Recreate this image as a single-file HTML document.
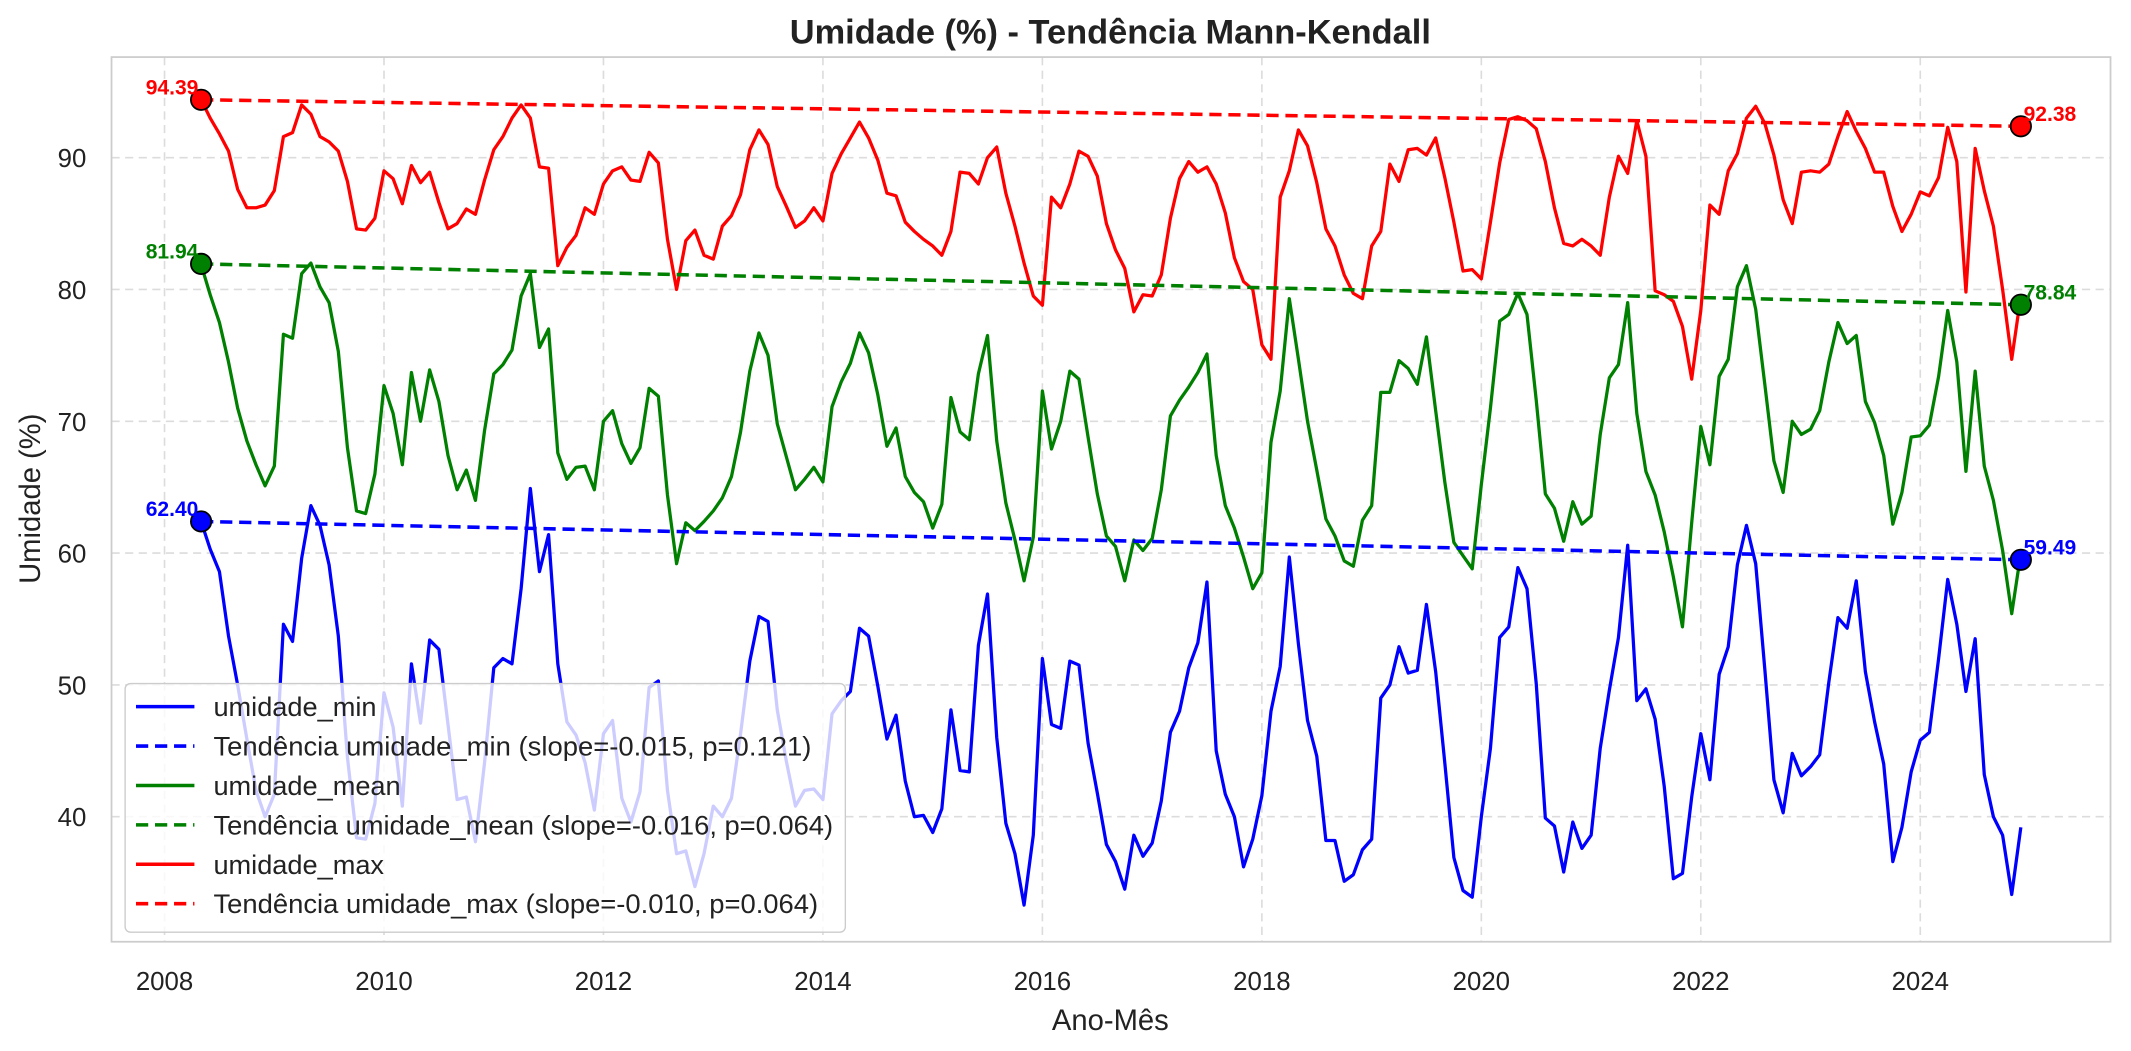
<!DOCTYPE html>
<html><head><meta charset="utf-8"><style>
html,body{margin:0;padding:0;background:#fff;}
svg{display:block;font-family:"Liberation Sans","DejaVu Sans",sans-serif;}
</style></head><body>
<svg id="chart" width="2131" height="1051" viewBox="0 0 1568 773.4" xmlns="http://www.w3.org/2000/svg">
<rect width="1568" height="773.4" fill="#fff"/>
<g id="grid"></g>
<g id="series"></g>
<rect x="82" y="42" width="1471" height="651" fill="none" stroke="#ccc" stroke-width="1.3"/>
<g id="ticks"></g>
<text x="817" y="32" text-anchor="middle" font-size="25.3" font-weight="bold" fill="#222">Umidade (%) - Tendência Mann-Kendall</text>
<text x="817" y="758" text-anchor="middle" font-size="21.5" fill="#222">Ano-Mês</text>
<text transform="translate(29.5,367) rotate(-90)" text-anchor="middle" font-size="21.5" fill="#222">Umidade (%)</text>
<g id="legend"></g>
</svg>
<script>
const startYear = 2008, startMonth = 5;
const yTicks = [40, 50, 60, 70, 80, 90];
const xTickYears = [2008, 2010, 2012, 2014, 2016, 2018, 2020, 2022, 2024];
const umidadeMax = [94.4,93.0,91.8,90.5,87.6,86.2,86.2,86.4,
87.5,91.6,91.9,94.0,93.3,91.6,91.2,90.5,88.2,84.6,84.5,85.4,
89.0,88.4,86.5,89.4,88.1,88.9,86.6,84.6,85.0,86.1,85.7,88.3,
90.6,91.6,93.0,94.0,93.0,89.3,89.2,81.8,83.2,84.1,86.2,85.7,
88.0,89.0,89.3,88.3,88.2,90.4,89.6,83.8,80.0,83.7,84.5,82.6,
82.3,84.8,85.6,87.2,90.6,92.1,91.0,87.8,86.3,84.7,85.2,86.2,
85.2,88.8,90.3,91.5,92.7,91.5,89.8,87.3,87.1,85.1,84.4,83.8,
83.3,82.6,84.4,88.9,88.8,88.0,90.0,90.8,87.3,84.8,82.0,79.5,
78.8,87.0,86.2,88.0,90.5,90.1,88.6,85.0,83.0,81.6,78.3,79.6,
79.5,81.1,85.4,88.4,89.7,88.9,89.3,88.0,85.8,82.4,80.6,80.0,
75.8,74.7,87.0,89.0,92.1,90.9,88.1,84.6,83.3,81.1,79.7,79.3,
83.3,84.4,89.5,88.2,90.6,90.7,90.2,91.5,88.5,85.1,81.4,81.5,
80.8,85.1,89.6,92.9,93.1,92.8,92.2,89.7,86.2,83.5,83.3,83.8,
83.3,82.6,87.0,90.1,88.8,92.8,90.1,79.9,79.6,79.1,77.2,73.2,
78.4,86.4,85.7,89.0,90.3,93.0,93.9,92.6,90.2,86.8,85.0,88.9,
89.0,88.9,89.5,91.6,93.5,92.0,90.7,88.9,88.9,86.3,84.4,85.7,
87.4,87.1,88.5,92.3,89.7,79.8,90.7,87.5,84.8,80.0,74.7,79.5];
const umidadeMean = [81.9,79.6,77.5,74.5,71.0,68.5,66.7,65.1,
66.6,76.6,76.3,81.2,82.0,80.2,79.0,75.3,68.0,63.2,63.0,66.0,
72.7,70.6,66.7,73.7,70.0,73.9,71.5,67.4,64.8,66.3,64.0,69.3,
73.6,74.3,75.4,79.5,81.2,75.6,77.0,67.6,65.6,66.5,66.6,64.8,
70.0,70.8,68.3,66.8,68.0,72.5,71.9,64.4,59.2,62.3,61.7,62.4,
63.2,64.2,65.8,69.2,73.8,76.7,75.0,69.8,67.3,64.8,65.6,66.5,
65.4,71.1,73.0,74.4,76.7,75.2,72.0,68.1,69.5,65.8,64.6,63.9,
61.9,63.7,71.8,69.2,68.6,73.6,76.5,68.5,63.8,61.0,57.9,61.2,
72.3,67.9,70.0,73.8,73.2,68.8,64.5,61.3,60.5,57.9,61.0,60.2,
61.1,64.8,70.4,71.6,72.6,73.7,75.1,67.4,63.6,61.9,59.7,57.3,
58.5,68.4,72.3,79.3,74.7,70.0,66.3,62.6,61.3,59.4,59.0,62.5,
63.6,72.2,72.2,74.6,74.0,72.8,76.4,70.8,65.4,60.8,59.8,58.8,
65.2,71.0,77.6,78.1,79.7,78.1,71.6,64.5,63.4,60.9,63.9,62.2,
62.8,69.0,73.3,74.3,79.0,70.6,66.2,64.4,61.6,58.2,54.4,62.3,
69.6,66.7,73.4,74.7,80.2,81.8,78.5,72.8,67.0,64.6,70.0,69.0,
69.4,70.8,74.5,77.5,75.9,76.5,71.5,69.9,67.4,62.2,64.6,68.8,
68.9,69.7,73.4,78.4,74.5,66.2,73.8,66.6,64.0,60.2,55.4,60.0];
const umidadeMin = [62.4,60.3,58.6,53.7,50.0,45.9,42.0,40.0,
41.7,54.6,53.3,59.6,63.6,62.1,59.1,53.7,44.5,38.4,38.3,41.0,
49.4,46.8,40.8,51.6,47.1,53.4,52.7,47.0,41.3,41.5,38.1,44.1,
51.3,52.0,51.6,57.3,64.9,58.6,61.4,51.6,47.2,46.2,44.1,40.5,
46.3,47.3,41.4,39.6,41.9,49.8,50.3,42.0,37.2,37.4,34.7,37.2,
40.8,40.0,41.4,46.3,51.8,55.2,54.8,48.1,44.2,40.8,42.0,42.1,
41.3,47.8,48.8,49.5,54.3,53.7,49.9,45.9,47.7,42.7,40.0,40.1,
38.8,40.6,48.1,43.5,43.4,53.0,56.9,46.0,39.5,37.2,33.3,38.6,
52.0,47.0,46.7,51.8,51.5,45.6,41.8,37.9,36.6,34.5,38.6,37.0,
38.0,41.2,46.4,48.0,51.3,53.2,57.8,45.0,41.7,40.0,36.2,38.3,
41.6,48.0,51.4,59.7,53.1,47.3,44.6,38.2,38.2,35.1,35.6,37.5,
38.3,49.0,50.0,52.9,50.9,51.1,56.1,51.0,44.1,36.9,34.4,33.9,
40.0,45.2,53.6,54.4,58.9,57.3,50.1,39.9,39.3,35.8,39.6,37.6,
38.6,45.2,49.6,53.6,60.6,48.8,49.7,47.4,42.3,35.3,35.7,41.5,
46.3,42.8,50.8,52.9,59.1,62.1,59.2,51.2,42.8,40.3,44.8,43.1,
43.8,44.7,50.2,55.1,54.3,57.9,51.0,47.2,44.0,36.6,39.2,43.4,
45.8,46.4,52.0,58.0,54.6,49.5,53.5,43.2,40.0,38.6,34.1,39.2];
const trendStart = [62.40, 81.94, 94.39];
const trendEnd = [59.49, 78.84, 92.38];
const seriesNames = ["umidade_min", "umidade_mean", "umidade_max"];
const slopes = ["-0.015", "-0.016", "-0.010"];
const pvals = ["0.121", "0.064", "0.064"];

const NS = "http://www.w3.org/2000/svg";
const colors = ["#0000ff", "#008000", "#ff0000"];
const trendLabelWidths = [440, 456, 445];
const X0 = 121, PX_YEAR = 80.75;
function xYear(yFrac){ return X0 + (yFrac - 2008) * PX_YEAR; }
function xIdx(i){ return xYear(startYear + (startMonth - 1 + i) / 12); }
function yVal(v){ return 116 + (90 - v) * 9.7; }
function mk(tag, attrs, parent){ const e = document.createElementNS(NS, tag); for (const k in attrs) e.setAttribute(k, attrs[k]); parent.appendChild(e); return e; }

const grid = document.getElementById('grid'), ticks = document.getElementById('ticks');
yTicks.forEach(v => {
  const l = mk('line', {x1:82, x2:1553, y1:yVal(v), y2:yVal(v), stroke:'#dcdcdc', 'stroke-width':1.2, 'stroke-dasharray':'6,4'}, grid);
  
  
  const t = mk('text', {x:63.5, y:yVal(v)+7, 'text-anchor':'end', 'font-size':19, fill:'#222'}, ticks);
  t.textContent = v;
  
  
});
xTickYears.forEach(yr => {
  const x = xYear(yr);
  const l = mk('line', {x1:x, x2:x, y1:42, y2:693, stroke:'#dcdcdc', 'stroke-width':1.2, 'stroke-dasharray':'6,4'}, grid);
  
  
  const t = mk('text', {x:x, y:728.5, 'text-anchor':'middle', 'font-size':19, fill:'#222'}, ticks);
  t.textContent = yr;
  
  
});

const ser = document.getElementById('series');
const data = [umidadeMin, umidadeMean, umidadeMax];
data.forEach((arr, s) => {
  const p = mk('polyline', {points: arr.map((v,i)=>xIdx(i).toFixed(1)+','+yVal(v).toFixed(1)).join(' '), fill:'none', stroke:colors[s], 'stroke-width':2.4, 'stroke-linejoin':'round'}, ser);
  
  
});
data.forEach((arr, s) => {
  const xa = xIdx(0), xb = xIdx(arr.length - 1);
  const t = mk('line', {x1:xa, y1:yVal(trendStart[s]), x2:xb, y2:yVal(trendEnd[s]), stroke:colors[s], 'stroke-width':2.6, 'stroke-dasharray':'9,5'}, ser);
  
  
  [[xa, trendStart[s], 'start'], [xb, trendEnd[s], 'end']].forEach(([x, v, w]) => {
    const c = mk('circle', {cx:x, cy:yVal(v), r:7.5, fill:colors[s], stroke:'#000', 'stroke-width':1.3}, ser);
    
    
    const lab = mk('text', {x: w==='start' ? x-2 : x+2, y: yVal(v)-4, 'text-anchor': w==='start' ? 'end' : 'start', 'font-size':15.5, 'font-weight':'bold', fill:colors[s]}, ser);
    lab.textContent = v.toFixed(2);
    
    
  });
});

const leg = document.getElementById('legend');
const box = mk('rect', {x:92, y:503, width:530, height:183, rx:4, fill:'rgba(255,255,255,0.8)', stroke:'#ccc', 'stroke-width':1}, leg);


let row = 0;
[0,1,2].forEach(s => {
  [false, true].forEach(isTrend => {
    const y = 520 + row * 29;
    const g = mk('g', {}, leg);
    
    
    const attrs = {x1:100, x2:143, y1:y, y2:y, stroke:colors[s], 'stroke-width':2.6};
    if (isTrend) attrs['stroke-dasharray'] = '9,5';
    mk('line', attrs, g);
    const tAttrs = {x:157, y:y+7, 'font-size':20, fill:'#222'};
    if (isTrend) { tAttrs.textLength = trendLabelWidths[s]; tAttrs.lengthAdjust = 'spacingAndGlyphs'; }
    const t = mk('text', tAttrs, g);
    t.textContent = isTrend ? 'Tendência ' + seriesNames[s] + ' (slope=' + slopes[s] + ', p=' + pvals[s] + ')' : seriesNames[s];
    row++;
  });
});
</script>
</body></html>
